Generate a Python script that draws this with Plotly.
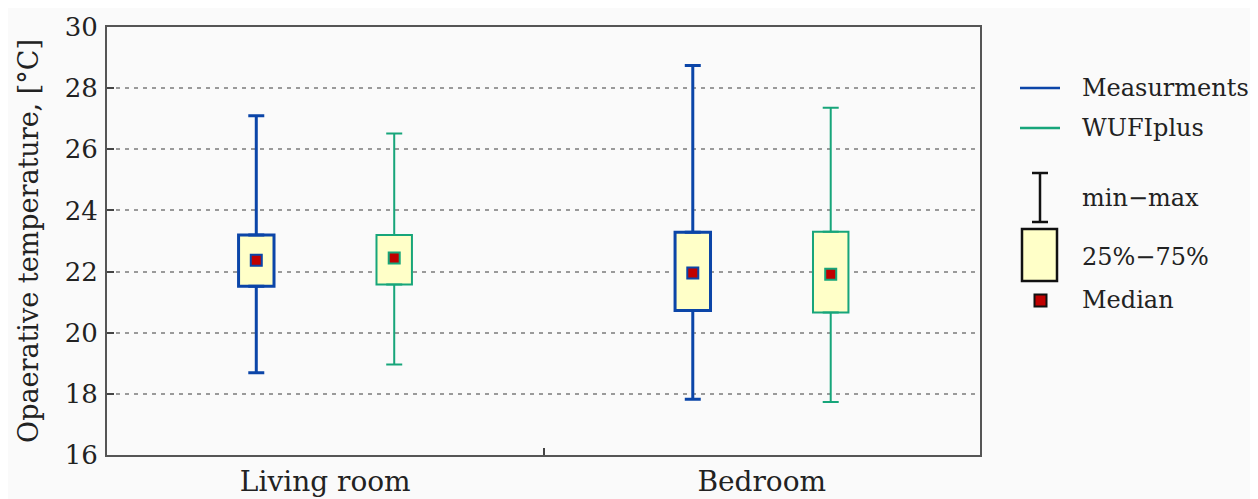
import plotly.graph_objects as go

categories = ["Living room", "Bedroom"]
series_names = ["Measurments", "WUFIplus"]

meas_min = [18.69, 17.82]
meas_q1 = [21.52, 20.73]
meas_median = [22.37, 21.95]
meas_q3 = [23.20, 23.29]
meas_max = [27.10, 28.74]

wufi_min = [18.96, 17.73]
wufi_q1 = [21.58, 20.66]
wufi_median = [22.44, 21.91]
wufi_q3 = [23.20, 23.30]
wufi_max = [26.52, 27.36]

y_ticks = [16, 18, 20, 22, 24, 26, 28, 30]

FONT = "DejaVu Serif"
TXT = "#222222"
BG = "#fafafa"
BOX_FILL = "#ffffc8"
MED_FILL = "#c00000"

series = [
    dict(name=series_names[0], color="#0b45a8", lw=3, mn=meas_min, q1=meas_q1,
         med=meas_median, q3=meas_q3, mx=meas_max),
    dict(name=series_names[1], color="#17a57a", lw=2, mn=wufi_min, q1=wufi_q1,
         med=wufi_median, q3=wufi_q3, mx=wufi_max),
]

fig = go.Figure()

for s in series:
    g = s["name"]
    # interquartile box
    fig.add_trace(go.Bar(
        x=categories, y=[b - a for a, b in zip(s["q1"], s["q3"])], base=s["q1"],
        marker=dict(color=BOX_FILL, line=dict(color=s["color"], width=s["lw"])),
        offsetgroup=g, showlegend=False, hoverinfo="skip"))
for s in series:
    g = s["name"]
    # upper whisker
    fig.add_trace(go.Scatter(
        x=categories, y=s["q3"], mode="markers",
        marker=dict(size=1, color="rgba(0,0,0,0)"),
        error_y=dict(type="data", symmetric=False,
                     array=[b - a for a, b in zip(s["q3"], s["mx"])],
                     arrayminus=[0] * len(categories),
                     color=s["color"], thickness=s["lw"], width=8),
        offsetgroup=g, showlegend=False, hoverinfo="skip"))
    # lower whisker
    fig.add_trace(go.Scatter(
        x=categories, y=s["q1"], mode="markers",
        marker=dict(size=1, color="rgba(0,0,0,0)"),
        error_y=dict(type="data", symmetric=False,
                     array=[0] * len(categories),
                     arrayminus=[a - b for a, b in zip(s["q1"], s["mn"])],
                     color=s["color"], thickness=s["lw"], width=8),
        offsetgroup=g, showlegend=False, hoverinfo="skip"))
for s in series:
    g = s["name"]
    fig.add_trace(go.Scatter(
        x=categories, y=s["med"], mode="markers",
        marker=dict(symbol="square", size=11, color=MED_FILL,
                    line=dict(color=s["color"], width=2)),
        offsetgroup=g, showlegend=False, name=g))

# The page body adds an 8px offset; the figure is sized so that the plot area
# lands at the reference's pixel positions in the 1258x499 window.
OFF = 8
W, H = 1258 - OFF, 499 - OFF
L, R, T, B = 107 - OFF, 980 - OFF, 27 - OFF, 455 - OFF


def px(x):
    return (x - OFF - L) / (R - L)


def py(y):
    return (B - (y - OFF)) / (B - T)


shapes = []
ann = []
legend_rows = [
    (series[0]["color"], series_names[0], 88),
    (series[1]["color"], series_names[1], 128),
]
for col, label, yc in legend_rows:
    shapes.append(dict(type="line", xref="paper", yref="paper",
                       x0=px(1020), x1=px(1060), y0=py(yc), y1=py(yc),
                       line=dict(color=col, width=2.5)))
    ann.append(dict(text=label, x=px(1080), y=py(yc), xref="paper", yref="paper",
                    xanchor="left", yanchor="middle", showarrow=False,
                    font=dict(family=FONT, size=24, color=TXT)))

# min-max symbol, box symbol, median symbol
shapes += [
    dict(type="line", xref="paper", yref="paper", x0=px(1040), x1=px(1040),
         y0=py(173), y1=py(222), line=dict(color="#111", width=2.5)),
    dict(type="line", xref="paper", yref="paper", x0=px(1032), x1=px(1048),
         y0=py(173), y1=py(173), line=dict(color="#111", width=2.5)),
    dict(type="line", xref="paper", yref="paper", x0=px(1032), x1=px(1048),
         y0=py(222), y1=py(222), line=dict(color="#111", width=2.5)),
    dict(type="rect", xref="paper", yref="paper", x0=px(1022), x1=px(1057),
         y0=py(281), y1=py(229), fillcolor=BOX_FILL,
         line=dict(color="#111", width=2.5)),
    dict(type="rect", xref="paper", yref="paper", x0=px(1034.5), x1=px(1046.5),
         y0=py(306.5), y1=py(294.5), fillcolor=MED_FILL,
         line=dict(color="#111", width=2)),
]
for label, yc in [("min\u2212max", 198), ("25%\u221275%", 257), ("Median", 300)]:
    ann.append(dict(text=label, x=px(1080), y=py(yc), xref="paper", yref="paper",
                    xanchor="left", yanchor="middle", showarrow=False,
                    font=dict(family=FONT, size=24, color=TXT)))

fig.update_layout(
    width=W, height=H,
    margin=dict(l=L, r=W - R, t=T, b=H - B),
    paper_bgcolor=BG, plot_bgcolor=BG,
    barmode="group", bargap=0.368, bargroupgap=0.743,
    scattermode="group", scattergap=0.368,
    showlegend=False,
    shapes=shapes, annotations=ann,
    font=dict(family=FONT, color=TXT),
    xaxis=dict(type="category", range=[-0.5, 1.5], tickson="boundaries",
               ticks="inside", ticklen=7, tickwidth=1.5, tickcolor="#444",
               showline=True, mirror=True, linecolor="#555", linewidth=2,
               showgrid=False, zeroline=False, automargin=False,
               tickfont=dict(family=FONT, size=28, color=TXT)),
    yaxis=dict(range=[16, 30], tickvals=y_ticks,
               ticks="inside", ticklen=7, tickwidth=1.5, tickcolor="#444",
               showline=True, mirror=True, linecolor="#555", linewidth=2,
               showgrid=True, gridcolor="#9a9a9a", gridwidth=2, griddash="4px,5px",
               zeroline=False, ticklabelstandoff=2, automargin=False,
               tickfont=dict(family=FONT, size=26, color=TXT),
               title=dict(text="Opaerative temperature, [\u00b0C]",
                          font=dict(family=FONT, size=27, color=TXT), standoff=18)),
)

fig.write_html("out.html")
